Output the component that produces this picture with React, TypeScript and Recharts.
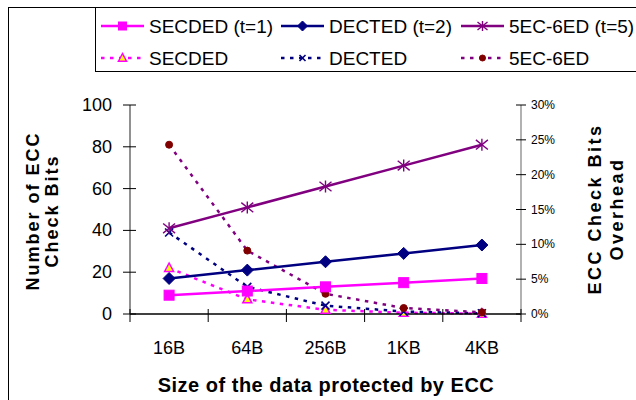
import React from 'react';
import { ComposedChart, Line, XAxis, YAxis } from 'recharts';

const categories = ['16B', '64B', '256B', '1KB', '4KB'];
const secdedBits = [9, 11, 13, 15, 17];
const dectedBits = [17, 21, 25, 29, 33];
const ec5Bits = [41, 51, 61, 71, 81];
const secdedOverhead = [6.6, 2.1, 0.6, 0.18, 0.05];
const dectedOverhead = [11.7, 3.9, 1.2, 0.35, 0.1];
const ec5Overhead = [24.3, 9.1, 2.9, 0.86, 0.25];
const leftTicks = [0, 20, 40, 60, 80, 100];
const rightTicks = [0, 5, 10, 15, 20, 25, 30];

const FONT = '"Liberation Sans", Arial, sans-serif';
const MAGENTA = '#FF00FF';
const NAVY = '#000080';
const PURPLE = '#800080';
const DARKRED = '#800000';

const data = categories.map((c, i) => ({
  x: i + 0.5,
  name: c,
  secdedBits: secdedBits[i],
  dectedBits: dectedBits[i],
  ec5Bits: ec5Bits[i],
  secdedOverhead: secdedOverhead[i],
  dectedOverhead: dectedOverhead[i],
  ec5Overhead: ec5Overhead[i],
}));

const xTicks: number[] = [];
for (let i = 0; i <= categories.length * 2; i++) xTicks.push(i / 2);

type MarkerKind = 'square' | 'diamond' | 'star' | 'triangle' | 'x' | 'circle';

function marker(kind: MarkerKind, cx: number, cy: number, s: number, key?: string) {
  switch (kind) {
    case 'square':
      return <rect key={key} x={cx - s} y={cy - s} width={2 * s} height={2 * s} fill={MAGENTA} stroke={MAGENTA} />;
    case 'diamond':
      return (
        <polygon key={key} points={`${cx},${cy - s} ${cx + s},${cy} ${cx},${cy + s} ${cx - s},${cy}`} fill={NAVY} stroke={NAVY} />
      );
    case 'star':
      return (
        <g key={key} stroke={PURPLE} strokeWidth={1.4}>
          <line x1={cx} y1={cy - s} x2={cx} y2={cy + s} />
          <line x1={cx - s} y1={cy - s * 0.8} x2={cx + s} y2={cy + s * 0.8} />
          <line x1={cx - s} y1={cy + s * 0.8} x2={cx + s} y2={cy - s * 0.8} />
        </g>
      );
    case 'triangle':
      return (
        <polygon key={key} points={`${cx},${cy - s} ${cx + s * 0.9},${cy + s * 0.7} ${cx - s * 0.9},${cy + s * 0.7}`} fill="#FFFF00" stroke={MAGENTA} strokeWidth={1.5} />
      );
    case 'x':
      return (
        <g key={key} stroke={NAVY} strokeWidth={1.6}>
          <line x1={cx - s} y1={cy - s} x2={cx + s} y2={cy + s} />
          <line x1={cx - s} y1={cy + s} x2={cx + s} y2={cy - s} />
        </g>
      );
    case 'circle':
    default:
      return <circle key={key} cx={cx} cy={cy} r={s} fill={DARKRED} stroke={DARKRED} />;
  }
}

const makeDot = (kind: MarkerKind, s: number) => (props: any) => {
  const { cx, cy, index } = props;
  if (cx == null || cy == null) return <g key={`d${index}`} />;
  return marker(kind, cx, cy, s, `${kind}-${index}`);
};

const XTick = (props: any) => {
  const { x, y, payload } = props;
  const v = payload.value as number;
  if (Number.isInteger(v)) {
    return <line x1={x} y1={y - 5} x2={x} y2={y + 8} stroke="#000" strokeWidth={1} />;
  }
  const label = categories[Math.floor(v)];
  return (
    <text x={x} y={y + 34} textAnchor="middle" dominantBaseline="central" fontFamily={FONT} fontSize={18} fill="#000">
      {label}
    </text>
  );
};

const LeftTick = (props: any) => {
  const { x, y, payload } = props;
  return (
    <g>
      <line x1={x - 7} y1={y} x2={x + 6} y2={y} stroke="#000" strokeWidth={1} />
      <text x={x - 18} y={y} textAnchor="end" dominantBaseline="central" fontFamily={FONT} fontSize={18} fill="#000">
        {payload.value}
      </text>
    </g>
  );
};

const RightTick = (props: any) => {
  const { x, y, payload } = props;
  return (
    <g>
      <line x1={x - 5} y1={y} x2={x + 5} y2={y} stroke="#000" strokeWidth={1} />
      <text x={x + 10} y={y} textAnchor="start" dominantBaseline="central" fontFamily={FONT} fontSize={12} fill="#000">
        {`${payload.value}%`}
      </text>
    </g>
  );
};

const legendItems: { name: string; color: string; kind: MarkerKind; dashed: boolean; s: number }[] = [
  { name: 'SECDED (t=1)', color: MAGENTA, kind: 'square', dashed: false, s: 4 },
  { name: 'DECTED (t=2)', color: NAVY, kind: 'diamond', dashed: false, s: 5 },
  { name: '5EC-6ED (t=5)', color: PURPLE, kind: 'star', dashed: false, s: 5 },
  { name: 'SECDED', color: MAGENTA, kind: 'triangle', dashed: true, s: 4.5 },
  { name: 'DECTED', color: NAVY, kind: 'x', dashed: true, s: 3 },
  { name: '5EC-6ED', color: PURPLE, kind: 'circle', dashed: true, s: 3 },
];

const colX = [5, 185, 365];
const rowY = [18, 50];

const LegendBox = () => (
  <div
    style={{
      position: 'absolute',
      left: 95,
      top: 7,
      width: 560,
      height: 63,
      borderLeft: '1.5px solid #000',
      borderTop: '1.5px solid #000',
      borderBottom: '1.5px solid #000',
      background: '#fff',
    }}
  >
    <svg width={560} height={63} style={{ display: 'block' }}>
      {legendItems.map((it, i) => {
        const cx0 = colX[i % 3];
        const cy = rowY[Math.floor(i / 3)];
        return (
          <g key={it.name}>
            <line
              x1={cx0}
              y1={cy}
              x2={cx0 + 43}
              y2={cy}
              stroke={it.color}
              strokeWidth={2.5}
              strokeDasharray={it.dashed ? '3.5 5.5' : undefined}
            />
            {marker(it.kind, cx0 + 21.5, cy, it.s)}
            <text x={cx0 + 48} y={cy} dominantBaseline="central" fontFamily={FONT} fontSize={19} fill="#000">
              {it.name}
            </text>
          </g>
        );
      })}
    </svg>
  </div>
);

const titleStyle = { fontFamily: FONT, fontWeight: 700 as const, fontSize: 18, fill: '#000' };

export default function App() {
  return (
    <div style={{ position: 'absolute', left: 0, top: 0, width: 636, height: 400, background: '#fff', overflow: 'hidden' }}>
      <div
        style={{
          position: 'absolute',
          left: 8,
          top: 7,
          width: 700,
          height: 500,
          borderLeft: '1.5px solid #000',
          borderTop: '1.5px solid #000',
        }}
      />
      <div style={{ position: 'absolute', left: 0, top: 0 }}>
        <ComposedChart
          width={636}
          height={400}
          data={data}
          margin={{ top: 105, right: 55, bottom: 26, left: 70 }}
        >
          <XAxis
            xAxisId="x"
            type="number"
            dataKey="x"
            domain={[0, categories.length]}
            ticks={xTicks}
            interval={0}
            tickLine={false}
            tickSize={0}
            tickMargin={0}
            tick={<XTick />}
            axisLine={{ stroke: '#000', strokeWidth: 1.3 }}
            height={60}
          />
          <YAxis
            yAxisId="left"
            orientation="left"
            domain={[0, 100]}
            ticks={leftTicks}
            interval={0}
            tickLine={false}
            tickSize={0}
            tickMargin={0}
            tick={<LeftTick />}
            axisLine={{ stroke: '#555', strokeWidth: 1.3 }}
            width={60}
          />
          <YAxis
            yAxisId="right"
            orientation="right"
            domain={[0, 30]}
            ticks={rightTicks}
            interval={0}
            tickLine={false}
            tickSize={0}
            tickMargin={0}
            tick={<RightTick />}
            axisLine={{ stroke: '#888', strokeWidth: 1.3 }}
            width={60}
          />
          <Line xAxisId="x" yAxisId="right" dataKey="secdedOverhead" stroke={MAGENTA} strokeWidth={2.5} strokeDasharray="3.5 5.5" dot={makeDot('triangle', 5)} isAnimationActive={false} />
          <Line xAxisId="x" yAxisId="right" dataKey="dectedOverhead" stroke={NAVY} strokeWidth={2.5} strokeDasharray="3.5 5.5" dot={makeDot('x', 4)} isAnimationActive={false} />
          <Line xAxisId="x" yAxisId="right" dataKey="ec5Overhead" stroke={PURPLE} strokeWidth={2.5} strokeDasharray="3.5 5.5" dot={makeDot('circle', 3.5)} isAnimationActive={false} />
          <Line xAxisId="x" yAxisId="left" dataKey="secdedBits" stroke={MAGENTA} strokeWidth={2.5} dot={makeDot('square', 5)} isAnimationActive={false} />
          <Line xAxisId="x" yAxisId="left" dataKey="dectedBits" stroke={NAVY} strokeWidth={2.5} dot={makeDot('diamond', 6)} isAnimationActive={false} />
          <Line xAxisId="x" yAxisId="left" dataKey="ec5Bits" stroke={PURPLE} strokeWidth={2.5} dot={makeDot('star', 6)} isAnimationActive={false} />
        </ComposedChart>
      </div>
      <svg width={636} height={400} style={{ position: 'absolute', left: 0, top: 0, pointerEvents: 'none' }}>
        <text transform="translate(48,211) rotate(-90)" textAnchor="middle" style={titleStyle} letterSpacing={2}>
          <tspan x={0} dy={-9}>Number of ECC</tspan>
          <tspan x={0} dy={19}>Check Bits</tspan>
        </text>
        <text transform="translate(610,209) rotate(-90)" textAnchor="middle" style={titleStyle} letterSpacing={2.5}>
          <tspan x={0} dy={-9}>ECC Check Bits</tspan>
          <tspan x={0} dy={22}>Overhead</tspan>
        </text>
        <text x={326} y={385} textAnchor="middle" dominantBaseline="central" fontFamily={FONT} fontWeight={700} fontSize={20} letterSpacing={0.5} fill="#000">
          Size of the data protected by ECC
        </text>
      </svg>
      <LegendBox />
    </div>
  );
}
